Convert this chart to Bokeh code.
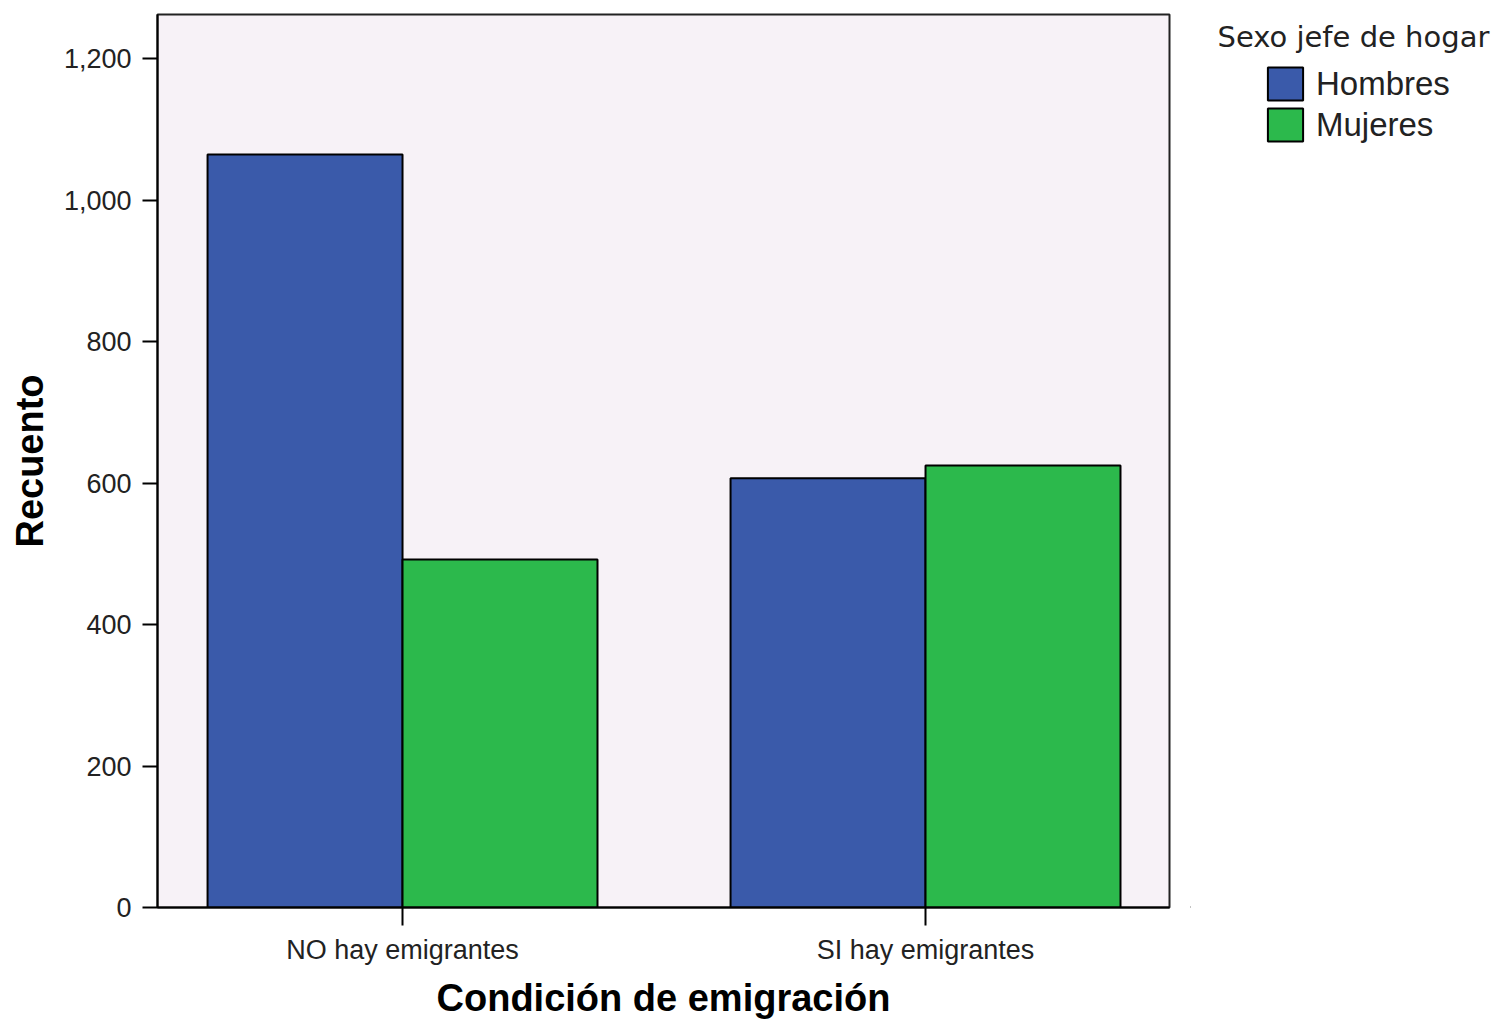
from bokeh.plotting import figure
from bokeh.layouts import row
from bokeh.models import (Range1d, FixedTicker, NumeralTickFormatter, Legend,
                          LegendItem, Label, ColumnDataSource)
from bokeh.embed import file_html
from bokeh.resources import INLINE

categories = ["NO hay emigrantes", "SI hay emigrantes"]
series = ["Hombres", "Mujeres"]
hombres = [1065, 607]
mujeres = [492, 625]
y_ticks = [0, 200, 400, 600, 800, 1000, 1200]
legend_title = "Sexo jefe de hogar"

colors = {"Hombres": "#3A5AAA", "Mujeres": "#2CB94C"}

bar_w = 0.3728
cat_pos = [i + 0.5 for i in range(len(categories))]

H = 1021
TOP, BOTTOM = 14, 114
p = figure(width=1190, height=H, output_backend="svg", toolbar_location=None,
           x_range=Range1d(0.0315, 1.9665), y_range=Range1d(0, 1262.9),
           min_border_left=157, min_border_right=21, min_border_top=TOP,
           min_border_bottom=BOTTOM)
p.background_fill_color = "#F7F2F7"
p.border_fill_color = "white"
p.outline_line_color = "#222222"
p.outline_line_width = 2
p.grid.visible = False

for name, vals, off in [("Hombres", hombres, -bar_w / 2), ("Mujeres", mujeres, bar_w / 2)]:
    src = ColumnDataSource(dict(x=[c + off for c in cat_pos], top=vals))
    p.vbar(x="x", top="top", bottom=0, width=bar_w, source=src,
           fill_color=colors[name], line_color="black", line_width=2)

# axes
p.xaxis.ticker = FixedTicker(ticks=cat_pos)
p.xaxis.major_label_overrides = {c: lab for c, lab in zip(cat_pos, categories)}
p.yaxis.ticker = FixedTicker(ticks=y_ticks)
p.yaxis.formatter = NumeralTickFormatter(format="0,0")
for ax in (p.xaxis, p.yaxis):
    ax.axis_line_color = "black"
    ax.axis_line_width = 2
    ax.major_tick_line_color = "black"
    ax.major_tick_line_width = 2
    ax.major_tick_in = 0
    ax.minor_tick_line_color = None
    ax.major_label_text_font = "Liberation Sans"
    ax.major_label_text_font_size = "27px"
    ax.major_label_text_color = "#222222"
    ax.axis_label_text_font = "Liberation Sans"
    ax.axis_label_text_font_style = "bold"
    ax.axis_label_text_font_size = "38px"
    ax.axis_label_text_color = "black"
p.xaxis.major_tick_out = 18
p.yaxis.major_tick_out = 15
p.xaxis.major_label_standoff = 9
p.yaxis.major_label_standoff = 11
p.xaxis.axis_label = "Condición de emigración"
p.yaxis.axis_label = "Recuento"
p.xaxis.axis_label_standoff = 9
p.yaxis.axis_label_standoff = 10

# legend panel (separate figure to the right)
W2 = 305
FH = H - TOP - BOTTOM
lg = figure(width=W2, height=H, output_backend="svg", toolbar_location=None,
            x_range=Range1d(0, W2), y_range=Range1d(0, FH),
            min_border_left=0, min_border_right=0, min_border_top=TOP,
            min_border_bottom=BOTTOM, x_axis_type=None, y_axis_type=None)
lg.outline_line_color = None
lg.grid.visible = False
lg.background_fill_color = "white"
lg.border_fill_color = "white"

items = []
for name in series:
    # key-only renderer: a single swatch placed outside the visible range
    src = ColumnDataSource(dict(x=[-W2], top=[0]))
    r = lg.vbar(x="x", top="top", bottom=0, width=1, source=src,
                fill_color=colors[name], line_color="black", line_width=2)
    items.append(LegendItem(label=name, renderers=[r]))

legend = Legend(items=items, location=(73, 762), padding=0, margin=0, spacing=0,
                glyph_width=44, glyph_height=41, label_height=41,
                label_standoff=9, label_text_font="Liberation Sans",
                label_text_font_size="33px", label_text_color="#222222",
                border_line_color=None, background_fill_alpha=0)
lg.add_layout(legend, "center")

title = Label(x=27, y=FH - 22, text=legend_title,
              text_font="DejaVu Sans", text_font_size="29px",
              text_color="#222222", text_baseline="alphabetic")
lg.add_layout(title)

layout = row(p, lg, spacing=0)
open("out.html", "w").write(file_html(layout, INLINE))
